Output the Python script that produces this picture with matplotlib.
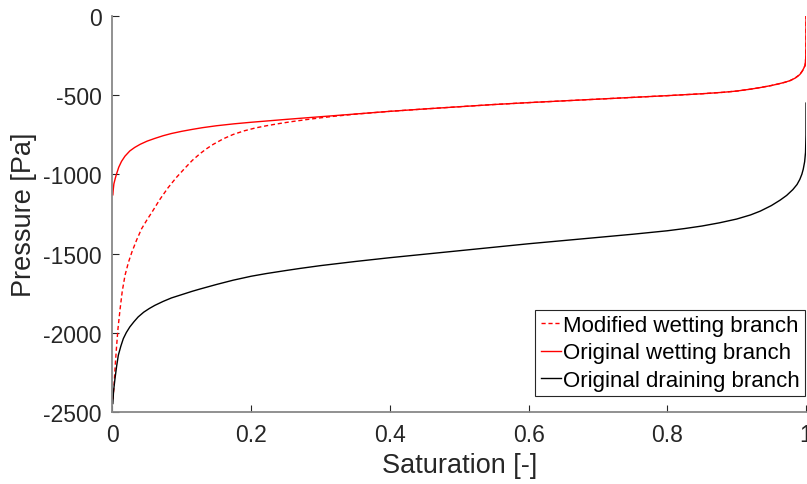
import matplotlib
matplotlib.use("Agg")
import matplotlib.pyplot as plt
from matplotlib.ticker import FixedLocator, FixedFormatter

plt.rcParams['font.family'] = ['Liberation Sans', 'DejaVu Sans']
plt.rcParams['axes.unicode_minus'] = False

# Original wetting branch
wet_s = [0.0005, 0.001, 0.002, 0.004, 0.006, 0.009, 0.013, 0.018, 0.025, 0.032,
         0.04, 0.05, 0.061, 0.073, 0.085, 0.1, 0.115, 0.13, 0.15, 0.175,
         0.2, 0.25, 0.3, 0.35, 0.4, 0.45, 0.5, 0.55, 0.6, 0.65,
         0.7, 0.75, 0.8, 0.85, 0.88, 0.9, 0.92, 0.934, 0.95, 0.96,
         0.97, 0.977, 0.984, 0.991, 0.995, 0.9986, 0.9995, 0.9999, 1.0]
wet_p = [-1129, -1100, -1060, -1025, -995, -955, -918, -885, -852, -830,
         -810, -790, -773, -756, -742, -728, -716, -705, -693, -681,
         -671, -653, -636, -619, -602, -587, -573, -559, -547, -536,
         -525, -514, -503, -491, -482, -474, -462, -452, -439, -429,
         -418, -408, -393, -370, -345, -313, -270, -200, 0]

# Modified wetting branch
mod_s = [0.0005, 0.002, 0.004, 0.006, 0.008, 0.011, 0.014, 0.018, 0.023, 0.028,
         0.035, 0.042, 0.05, 0.057, 0.068, 0.08, 0.092, 0.105, 0.115, 0.126,
         0.135, 0.145, 0.16, 0.174, 0.19, 0.206, 0.222, 0.242, 0.26, 0.28,
         0.3, 0.32, 0.35, 0.4, 0.45, 0.5, 0.55, 0.6, 0.65,
         0.7, 0.75, 0.8, 0.85, 0.88, 0.9, 0.92, 0.934, 0.95, 0.96,
         0.97, 0.977, 0.984, 0.991, 0.995, 0.9986, 0.9995, 0.9999, 1.0]
mod_p = [-2420, -2352, -2200, -2079, -1970, -1848, -1740, -1638, -1555, -1490,
         -1412, -1343, -1285, -1238, -1160, -1085, -1020, -958, -912, -870,
         -840, -811, -775, -748, -725, -707, -693, -678, -666, -654,
         -643, -633, -620, -602, -587, -573, -559, -547, -536,
         -525, -514, -503, -491, -482, -474, -462, -452, -439, -429,
         -418, -408, -393, -370, -345, -313, -270, -200, 0]

# Original draining branch
drn_s = [0.0005, 0.0015, 0.0036, 0.006, 0.0084, 0.012, 0.0156, 0.02, 0.025, 0.031,
         0.037, 0.045, 0.053, 0.061, 0.073, 0.085, 0.095, 0.105, 0.115, 0.126,
         0.15, 0.174, 0.2, 0.222, 0.25, 0.27, 0.3, 0.35, 0.4, 0.45,
         0.5, 0.55, 0.6, 0.65, 0.7, 0.75, 0.8, 0.825, 0.85, 0.875,
         0.9, 0.92, 0.934, 0.95, 0.9625, 0.972, 0.981, 0.987, 0.991, 0.994,
         0.996, 0.998, 0.9993, 0.9999, 1.0]
drn_p = [-2447, -2370, -2289, -2210, -2142, -2085, -2037, -1998, -1963, -1930,
         -1900, -1870, -1847, -1827, -1802, -1780, -1766, -1752, -1738, -1724,
         -1695, -1668, -1643, -1626, -1607, -1594, -1576, -1550, -1526, -1504,
         -1482, -1460, -1438, -1418, -1398, -1378, -1356, -1342, -1326, -1306,
         -1282, -1256, -1232, -1197, -1163, -1133, -1096, -1064, -1032, -999,
         -967, -920, -860, -750, -550]

xticks = [0, 0.2, 0.4, 0.6, 0.8, 1]
xtick_labels = ['0', '0.2', '0.4', '0.6', '0.8', '1']
yticks = [-2500, -2000, -1500, -1000, -500, 0]
ytick_labels = ['-2500', '-2000', '-1500', '-1000', '-500', '0']

fig = plt.figure(figsize=(8.07, 4.85), dpi=100)
ax = fig.add_axes([0.1394, 0.1485, 0.8594, 0.8165])

ax.plot(mod_s, mod_p, color='red', lw=1.0, dashes=(3, 2), label='Modified wetting branch')
ax.plot(wet_s, wet_p, color='red', lw=1.0, label='Original wetting branch')
ax.plot(drn_s, drn_p, color='black', lw=1.0, label='Original draining branch')

ax.set_xlim(0, 1)
ax.set_ylim(-2500, 0)
ax.xaxis.set_major_locator(FixedLocator(xticks))
ax.xaxis.set_major_formatter(FixedFormatter(xtick_labels))
ax.yaxis.set_major_locator(FixedLocator(yticks))
ax.yaxis.set_major_formatter(FixedFormatter(ytick_labels))

for side in ('top', 'right'):
    ax.spines[side].set_visible(False)
for side in ('left', 'bottom'):
    ax.spines[side].set_color('#888888')
    ax.spines[side].set_linewidth(1.3)

ax.tick_params(direction='in', length=5, width=0.8, color='#262626',
               labelsize=16.5, labelcolor='#262626', pad=8)

ax.set_xlabel('Saturation [-]', fontsize=19.5, color='#262626')
ax.set_ylabel('Pressure [Pa]', fontsize=19.5, color='#262626')
ax.xaxis.label.set_va('center')
ax.yaxis.label.set_va('center')
ax.xaxis.set_label_coords(0.5, -0.134)
ax.yaxis.set_label_coords(-0.127, 0.5)

leg = ax.legend(loc='lower right', bbox_to_anchor=(0.999, 0.04), fontsize=16,
                frameon=True, fancybox=False, framealpha=1, edgecolor='#262626',
                handlelength=0.9, handletextpad=0.1, labelspacing=0.28,
                borderpad=0.25, borderaxespad=0)
leg.get_frame().set_linewidth(0.8)

fig.savefig('out.png', dpi=100)
